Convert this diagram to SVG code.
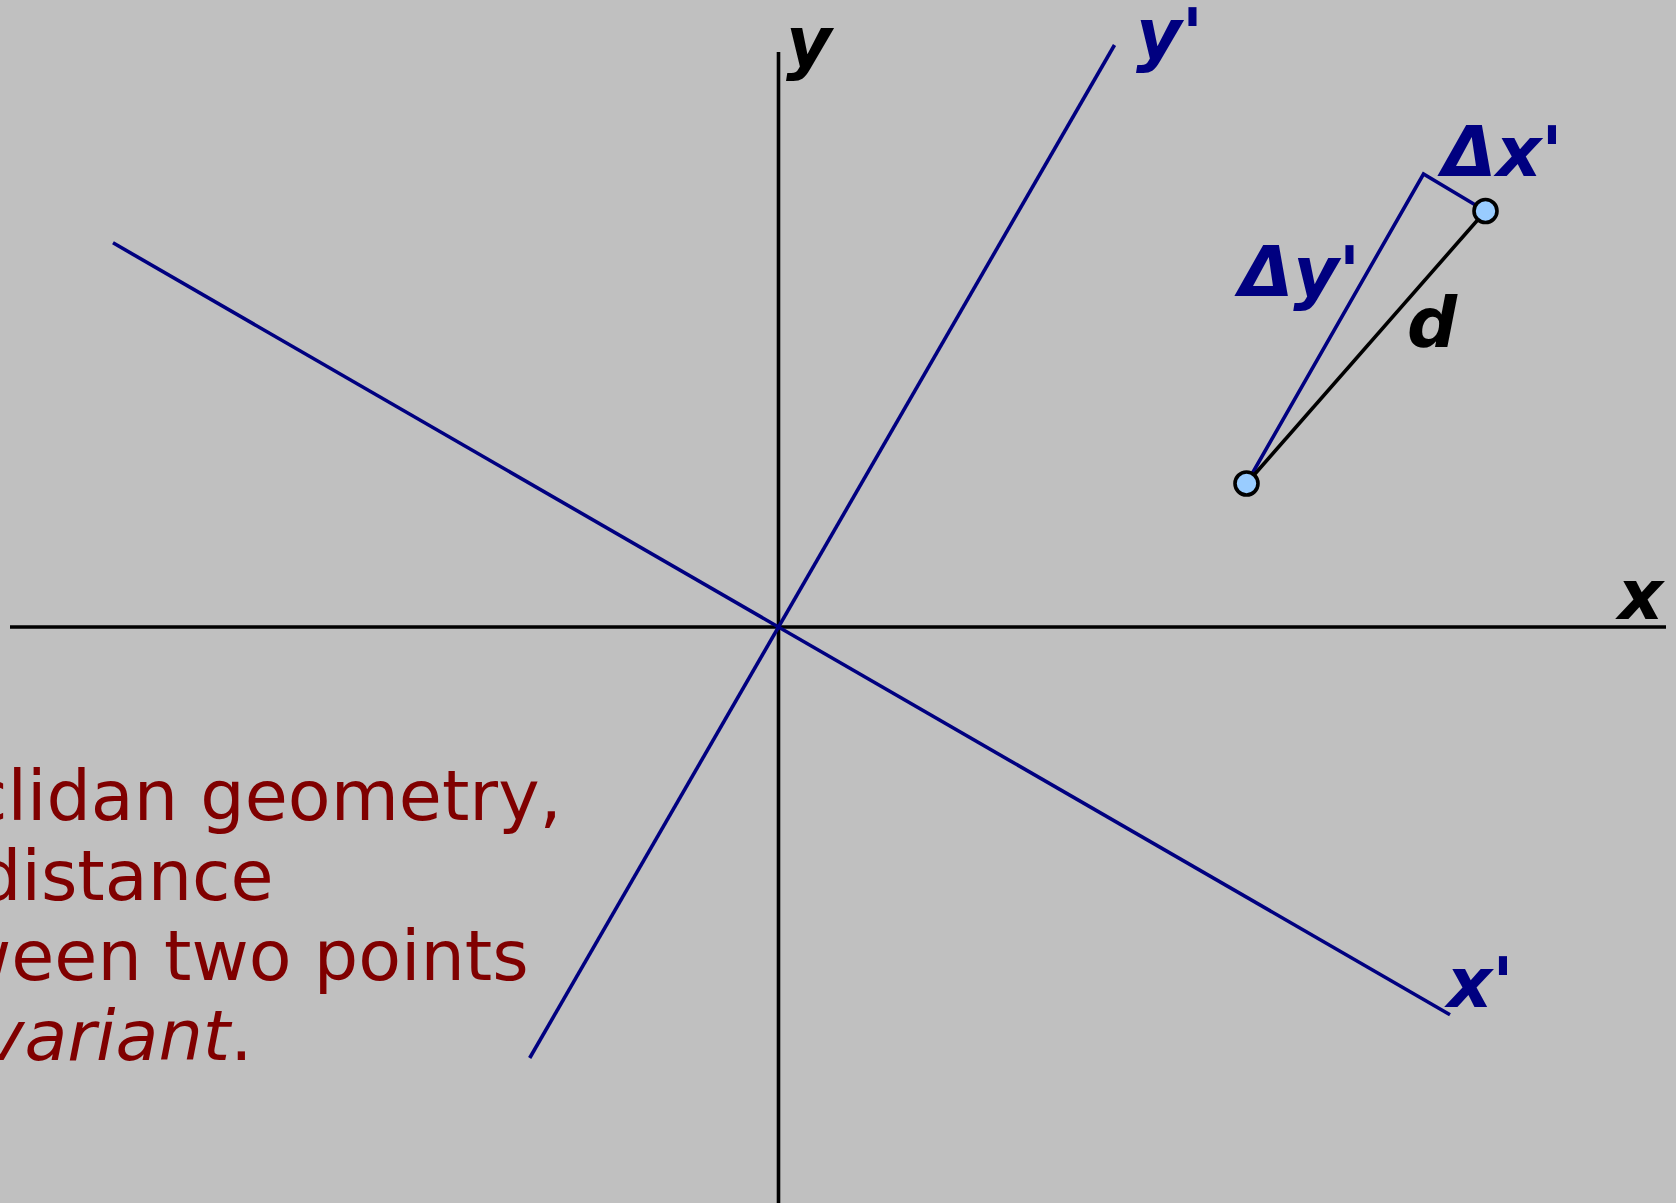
<svg xmlns="http://www.w3.org/2000/svg" width="1676" height="1203" viewBox="0 0 1676 1203">
  <style>
    .axis { stroke: #000000; stroke-width: 3.6; fill: none; }
    .rot { stroke: #000080; stroke-width: 3.6; fill: none; }
    .lbl { font-family: "DejaVu Sans", sans-serif; font-weight: bold; font-style: oblique; font-size: 70px; }
    .blk { fill: #000000; }
    .nvy { fill: #000080; }
    .note { font-family: "DejaVu Sans", sans-serif; font-size: 70px; fill: #800000; }
    .pt { fill: #99ccff; stroke: #000000; stroke-width: 3.6; }
  </style>
  <rect x="0" y="0" width="1676" height="1203" fill="#c0c0c0"/>
  <g id="caption">
    <text class="note" x="-31" y="820">clidan geometry,</text>
    <text class="note" x="-23" y="900">distance</text>
    <text class="note" x="-46" y="980">ween two points</text>
    <text class="note" x="-17" y="1060"><tspan font-style="oblique">variant</tspan>.</text>
  </g>
  <g id="connectors">
    <line id="axis-y" class="axis" x1="778.5" y1="52" x2="778.5" y2="1203"/>
    <line id="axis-x" class="axis" x1="10" y1="627" x2="1666" y2="627"/>
    <line id="axis-y-prime" class="rot" x1="529.7" y1="1058" x2="1114.5" y2="45"/>
    <line id="axis-x-prime" class="rot" x1="113" y1="242.8" x2="1450" y2="1014.7"/>
    <polyline id="components" class="rot" points="1246.5,483.5 1423.5,174 1485.5,211"/>
    <line id="distance" class="axis" x1="1246.5" y1="483.5" x2="1485.5" y2="211"/>
  </g>
  <g id="point-a"><circle class="pt" cx="1246.5" cy="483.5" r="11.5"/></g>
  <g id="point-b"><circle class="pt" cx="1485.5" cy="211" r="11.5"/></g>
  <g id="labels">
    <text class="lbl blk" x="786" y="66">y</text>
    <text class="lbl nvy" x="1136" y="58">y'</text>
    <text class="lbl blk" x="1618" y="619">x</text>
    <text class="lbl nvy" x="1447" y="1007">x'</text>
    <text class="lbl nvy" x="1442" y="176">Δx'</text>
    <text class="lbl nvy" x="1239" y="296">Δy'</text>
    <text class="lbl blk" x="1407" y="347">d</text>
  </g>
</svg>
